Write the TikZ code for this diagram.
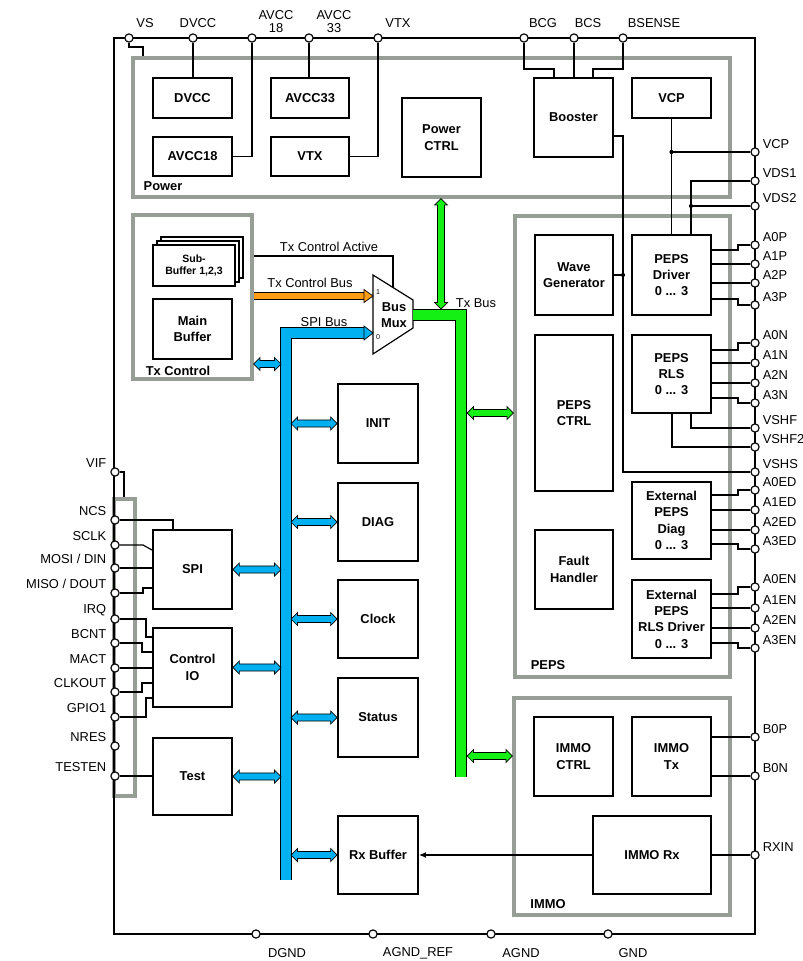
\documentclass[tikz,border=0pt]{standalone}
\usepackage{fontspec}
\setmainfont{Liberation Sans}
\usetikzlibrary{calc,fit,arrows.meta}
\definecolor{busblue}{RGB}{0,176,240}
\definecolor{busgreen}{RGB}{20,240,20}
\definecolor{busorange}{RGB}{255,158,20}
\definecolor{grpgray}{RGB}{150,158,150}
\tikzset{
  chip/.style={x=0.03cm,y=-0.03cm,font=\fontsize{11}{12}\selectfont,line width=1pt},
  blk/.style={draw,line width=1.6pt,inner sep=0pt},
  btxt/.style={inner sep=0pt,align=center,font=\fontsize{11}{14}\selectfont\bfseries},
  grp/.style={draw=grpgray,line width=2.6pt,inner sep=0pt},
  grplbl/.style={font=\fontsize{11}{12}\selectfont\bfseries},
  pinc/.style={circle,draw,fill=white,line width=1pt,minimum size=7pt,inner sep=0pt},
  plbl/.style={inner sep=1pt,align=center,font=\fontsize{11}{11}\selectfont},
  bus/.style={double=#1,double distance=8pt,line width=0.8pt},
}
\def\bdAh{5.5pt}
\def\bdHw{5.5pt}
\def\bdBw{3pt}
\newcommand\busdbl[3]{%
  \filldraw[fill=#3,line width=0.6pt] (#1)
    -- ($(#1)!\bdAh!(#2)!\bdHw!90:(#2)$) -- ($(#1)!\bdAh!(#2)!\bdBw!90:(#2)$)
    -- ($(#2)!\bdAh!(#1)!\bdBw!-90:(#1)$) -- ($(#2)!\bdAh!(#1)!\bdHw!-90:(#1)$)
    -- (#2)
    -- ($(#2)!\bdAh!(#1)!\bdHw!90:(#1)$) -- ($(#2)!\bdAh!(#1)!\bdBw!90:(#1)$)
    -- ($(#1)!\bdAh!(#2)!\bdBw!-90:(#2)$) -- ($(#1)!\bdAh!(#2)!\bdHw!-90:(#2)$)
    -- cycle;}

\begin{document}
\begin{tikzpicture}[chip]
  \useasboundingbox (0,0) rectangle (802,961);
  \node[grp, fit={(133,58)(730,197)}] (power) {};
  \node[grp, fit={(133,215)(252,379)}] (txctl) {};
  \node[grp, fit={(515,216)(730,677)}] (peps) {};
  \node[grp, fit={(514,698)(730,915)}] (immo) {};
  \node[grp, fit={(114,499)(135,796)}] (iogrp) {};
  \node[grplbl] (lpower) at (163,186) {Power};
  \node[grplbl] (ltxctl) at (178,371) {Tx Control};
  \node[grplbl] (lpeps) at (548,665) {PEPS};
  \node[grplbl] (limmo) at (548,904) {IMMO};
  \node[draw,line width=2.4pt,inner sep=0pt,fit={(114,38)(755,934)}] (chipbox) {};

  \node[blk, fit={(153,78)(232,118)}, label={[btxt]center:DVCC}] (dvcc) {};
  \node[blk, fit={(153,137)(232,176)}, label={[btxt]center:AVCC18}] (avcc18) {};
  \node[blk, fit={(271,78)(349,118)}, label={[btxt]center:AVCC33}] (avcc33) {};
  \node[blk, fit={(271,137)(349,176)}, label={[btxt]center:VTX}] (vtx) {};
  \node[blk, fit={(402,98)(481,177)}, label={[btxt]center:Power\\CTRL}] (pwrctrl) {};
  \node[blk, fit={(534,78)(613,157)}, label={[btxt]center:Booster}] (booster) {};
  \node[blk, fit={(632,78)(711,118)}, label={[btxt]center:VCP}] (vcp) {};
  \node[blk, fit={(535,235)(613,315)}, label={[btxt]center:Wave\\Generator}] (wavegen) {};
  \node[blk, fit={(632,235)(711,315)}, label={[btxt]center:PEPS\\Driver\\0 ... 3}] (pepsdrv) {};
  \node[blk, fit={(535,335)(613,491)}, label={[btxt]center:PEPS\\CTRL}] (pepsctrl) {};
  \node[blk, fit={(632,335)(711,413)}, label={[btxt]center:PEPS\\RLS\\0 ... 3}] (pepsrls) {};
  \node[blk, fit={(632,482)(711,559)}, label={[btxt]center:External\\PEPS\\Diag\\0 ... 3}] (extdiag) {};
  \node[blk, fit={(535,530)(613,609)}, label={[btxt]center:Fault\\Handler}] (fault) {};
  \node[blk, fit={(632,580)(711,658)}, label={[btxt]center:External\\PEPS\\RLS Driver\\0 ... 3}] (extrls) {};
  \node[blk, fit={(534,717)(613,796)}, label={[btxt]center:IMMO\\CTRL}] (immoctrl) {};
  \node[blk, fit={(632,717)(711,796)}, label={[btxt]center:IMMO\\Tx}] (immotx) {};
  \node[blk, fit={(593,816)(711,894)}, label={[btxt]center:IMMO Rx}] (immorx) {};
  \node[blk, fit={(338,384)(418,463)}, label={[btxt]center:INIT}] (init) {};
  \node[blk, fit={(338,483)(418,561)}, label={[btxt]center:DIAG}] (diag) {};
  \node[blk, fit={(338,580)(418,658)}, label={[btxt]center:Clock}] (clock) {};
  \node[blk, fit={(338,678)(418,757)}, label={[btxt]center:Status}] (status) {};
  \node[blk, fit={(338,816)(418,894)}, label={[btxt]center:Rx Buffer}] (rxbuf) {};
  \node[blk, fit={(153,530)(232,609)}, label={[btxt]center:SPI}] (spi) {};
  \node[blk, fit={(153,628)(232,707)}, label={[btxt]center:Control\\IO}] (ctrlio) {};
  \node[blk, fit={(153,738)(232,815)}, label={[btxt]center:Test}] (test) {};
  \node[blk, fit={(153,299)(232,359)}, label={[btxt]center:Main\\Buffer}] (mainbuf) {};
  \node[blk, fill=white, fit={(161,237)(243,278)}] (subbuf3) {};
  \node[blk, fill=white, fit={(157,241)(239,282)}] (subbuf2) {};
  \node[blk, fill=white, fit={(153,245)(235,286)},
        label={[btxt,font=\fontsize{9}{11}\selectfont\bfseries]center:{Sub-\\Buffer 1,2,3}}] (subbuf) {};

  \draw[fill=white,line width=1pt] (373,275) -- (413,300) -- (413,328) -- (373,354) -- cycle;
  \node[font=\fontsize{11}{14}\selectfont\bfseries,align=center] (mux) at (394,315) {Bus\\Mux};
  \node[font=\fontsize{6}{6}\selectfont] (mux1l) at (378,292) {1};
  \node[font=\fontsize{6}{6}\selectfont] (mux0l) at (378,337) {0};
  \coordinate (mux1) at (373,296);
  \coordinate (mux0) at (373,333);
  \coordinate (muxout) at (413,315);

  \foreach \n/\x in {VS/129, DVCC/193, AVCC18/252, AVCC33/309, VTX/378, BCG/524, BCS/574, BSENSE/623}
    \node[pinc] (p\n) at (\x,38) {};
  \foreach \n/\y in {VCP/152, VDS1/181, VDS2/206, A0P/245, A1P/264, A2P/283, A3P/305, A0N/343, A1N/363, A2N/383, A3N/403, VSHF/428, VSHF2/447, VSHS/472, A0ED/490, A1ED/510, A2ED/530, A3ED/549, A0EN/587, A1EN/608, A2EN/628, A3EN/648, B0P/737, B0N/776, RXIN/855}
    \node[pinc] (p\n) at (755,\y) {};
  \foreach \n/\y in {VIF/472, NCS/520, SCLK/545, MOSI/568, MISO/593, IRQ/619, BCNT/643, MACT/668, CLKOUT/692, GPIO1/717, NRES/746, TESTEN/776}
    \node[pinc] (p\n) at (115,\y) {};
  \foreach \n/\x in {DGND/256, AGNDREF/373, AGND/491, GND/608}
    \node[pinc] (p\n) at (\x,934) {};

  \draw (pVS) -- (129,47) -| (power.north -| 143,0);
  \draw (pDVCC) -- (pDVCC |- dvcc.north);
  \draw (pAVCC18) |- (avcc18);
  \draw (pAVCC33) -- (pAVCC33 |- avcc33.north);
  \draw (pVTX) |- (vtx);
  \draw (pBCG) -- (524,69) -| (booster.north -| 554,0);
  \draw (pBCS) -- (pBCS |- booster.north);
  \draw (pBSENSE) -- (623,69) -| (booster.north -| 593,0);
  \draw (booster.east |- 0,136) -- (623,136) |- (pVSHS);
  \draw (wavegen.east) -- (623,275);
  \fill (623,275) circle (1.8pt);
  \draw (vcp) -- (vcp |- pepsdrv.north);
  \draw (vcp.south |- pVCP) -- (pVCP);
  \fill (vcp.south |- pVCP) circle (1.8pt);
  \draw (pVDS1) -| (pepsdrv.north -| 691,0);
  \draw (pVDS2) -- (691,206);
  \fill (691,206) circle (1.8pt);
  \foreach \n/\a in {A0P/250, A1P/264, A2P/283, A3P/299}
    \draw (pepsdrv.east |- 0,\a) -- (738,\a) |- (p\n);
  \foreach \n/\a in {A0N/350, A1N/363, A2N/383, A3N/398}
    \draw (pepsrls.east |- 0,\a) -- (738,\a) |- (p\n);
  \foreach \n/\a in {A0ED/495, A1ED/510, A2ED/530, A3ED/544}
    \draw (extdiag.east |- 0,\a) -- (738,\a) |- (p\n);
  \foreach \n/\a in {A0EN/594, A1EN/608, A2EN/628, A3EN/643}
    \draw (extrls.east |- 0,\a) -- (738,\a) |- (p\n);
  \draw (pepsrls.south -| 691,0) |- (pVSHF);
  \draw (pepsrls.south -| 672,0) |- (pVSHF2);
  \draw (immotx.east |- pB0P) -- (pB0P);
  \draw (immotx.east |- pB0N) -- (pB0N);
  \draw (immorx) -- (pRXIN);
  \draw[-{Latex[length=6pt,width=5pt]}] (immorx) -- (rxbuf);

  \draw (pVIF) -| (iogrp.north -| 124,0);
  \draw (pNCS) -| (spi.north -| 173,0);
  \draw (pSCLK) -- (143,545) -- (spi.west |- 0,550);
  \draw (pMOSI) -- (spi.west |- pMOSI);
  \draw (pMISO) -- (143,593) |- (spi.west |- 0,588);
  \draw (pIRQ) -- (146,619) |- (ctrlio.west |- 0,637);
  \draw (pBCNT) -- (142,643) |- (ctrlio.west |- 0,652);
  \draw (pMACT) -- (ctrlio.west |- pMACT);
  \draw (pCLKOUT) -- (142,692) |- (ctrlio.west |- 0,683);
  \draw (pGPIO1) -- (146,717) |- (ctrlio.west |- 0,698);
  \draw (pTESTEN) -- (test.west |- pTESTEN);
  \draw (txctl.east |- 0,256) -| (393,288);

  \draw[bus=busorange,double distance=5.5pt] (txctl.east |- mux1) -- ($(mux1)+(-9,0)$);
  \filldraw[fill=busorange,line width=0.6pt] (mux1) -- ++(-9,-6.5) -- ++(0,13) -- cycle;
  \draw[bus=busblue] (286,880) -- (286,333) -- ($(mux0)+(-9,0)$);
  \filldraw[fill=busblue,line width=0.6pt] (mux0) -- ++(-9,-7) -- ++(0,14) -- cycle;
  \draw[bus=busgreen] (muxout) -- (461,315) -- (461,777);
  \coordinate (txbtop) at (power.south -| 441,0);
  \coordinate (txbbot) at (441,309);
  \busdbl{txbtop}{txbbot}{busgreen}
  \coordinate (gpeps) at (467,413);
  \coordinate (gpeps2) at (peps.west |- gpeps);
  \busdbl{gpeps}{gpeps2}{busgreen}
  \coordinate (gimmo) at (467,756);
  \coordinate (gimmo2) at (immo.west |- gimmo);
  \busdbl{gimmo}{gimmo2}{busgreen}
  \foreach \b in {init,diag,clock,status,rxbuf} {
    \coordinate (b\b) at (\b.west -| 291,0);
    \busdbl{b\b}{\b.west}{busblue}
  }
  \foreach \b in {spi,ctrlio,test} {
    \coordinate (b\b) at (\b.east -| 281,0);
    \busdbl{\b.east}{b\b}{busblue}
  }
  \coordinate (btx) at (txctl.east |- 0,364);
  \coordinate (btx2) at (281,364);
  \busdbl{btx}{btx2}{busblue}

  \node (lactive) at (329,247) {Tx Control Active};
  \node (lctlbus) at (310,283) {Tx Control Bus};
  \node (lspibus) at (324,322) {SPI Bus};
  \node (ltxbus) at (476,303) {Tx Bus};

  \node[plbl] (lVS) at (145,23) {VS};
  \node[plbl] (lDVCC) at (198,23) {DVCC};
  \node[plbl] (lAVCC18) at (276,22) {AVCC\\18};
  \node[plbl] (lAVCC33) at (334,22) {AVCC\\33};
  \node[plbl] (lVTX) at (398,23) {VTX};
  \node[plbl] (lBCG) at (543,23) {BCG};
  \node[plbl] (lBCS) at (588,23) {BCS};
  \node[plbl] (lBSENSE) at (654,23) {BSENSE};
  \foreach \n/\y in {VCP/152, VDS1/181, VDS2/206, A0P/245, A1P/264, A2P/283, A3P/305, A0N/343, A1N/363, A2N/383, A3N/403, VSHF/428, VSHF2/447, VSHS/472, A0ED/490, A1ED/510, A2ED/530, A3ED/549, A0EN/587, A1EN/608, A2EN/628, A3EN/648, B0P/737, B0N/776, RXIN/855}
    \node[plbl,anchor=west] (l\n) at (761,\y-8) {\n};
  \foreach \n/\t/\y in {VIF/VIF/472, NCS/NCS/520, SCLK/SCLK/545, MOSI/{MOSI / DIN}/568, MISO/{MISO / DOUT}/593, IRQ/IRQ/619, BCNT/BCNT/643, MACT/MACT/668, CLKOUT/CLKOUT/692, GPIO1/GPIO1/717, NRES/NRES/746, TESTEN/TESTEN/776}
    \node[plbl,anchor=east] (l\n) at (108,\y-9) {\t};
  \foreach \n/\t/\x in {DGND/DGND/287, AGNDREF/AGND\_REF/418, AGND/AGND/521, GND/GND/633}
    \node[plbl] (l\n) at (\x,953) {\t};
\end{tikzpicture}
\end{document}
